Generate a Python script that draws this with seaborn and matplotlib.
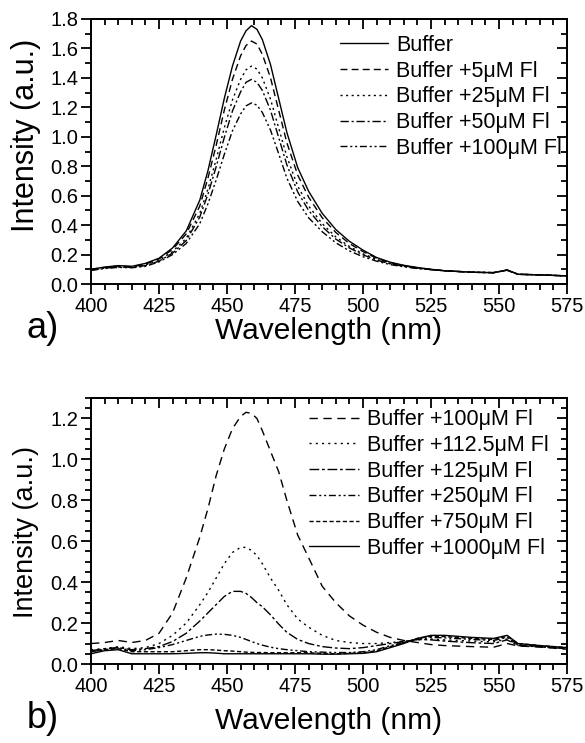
import numpy as np
import pandas as pd
import matplotlib
matplotlib.use("Agg")
import matplotlib.pyplot as plt
import seaborn as sns
from matplotlib.ticker import MultipleLocator, FormatStrFormatter

# ---------------- data ----------------
wavelength = [400, 405, 410, 415, 420, 425, 430, 435, 440, 443, 446, 449, 452, 455, 457,
              459, 461, 463, 466, 469, 472, 476, 480, 485, 490, 495, 500, 505, 510, 515,
              520, 525, 530, 540, 548, 553, 557, 565, 575]

# panel a)
labels_a = ["Buffer", "Buffer +5\u03bcM Fl", "Buffer +25\u03bcM Fl",
            "Buffer +50\u03bcM Fl", "Buffer +100\u03bcM Fl"]
buffer_0 = [0.100, 0.115, 0.125, 0.120, 0.140, 0.175, 0.245, 0.360, 0.570, 0.770, 1.010, 1.260, 1.480, 1.650, 1.720,
            1.755, 1.730, 1.660, 1.490, 1.260, 1.030, 0.790, 0.630, 0.480, 0.370, 0.290, 0.230, 0.180, 0.148, 0.127,
            0.112, 0.100, 0.090, 0.080, 0.077, 0.095, 0.066, 0.062, 0.055]
buffer_5 = [0.100, 0.112, 0.122, 0.118, 0.135, 0.170, 0.235, 0.340, 0.530, 0.720, 0.940, 1.180, 1.390, 1.550, 1.620,
            1.650, 1.630, 1.560, 1.400, 1.180, 0.960, 0.740, 0.590, 0.450, 0.350, 0.275, 0.220, 0.175, 0.145, 0.125,
            0.110, 0.099, 0.090, 0.080, 0.077, 0.095, 0.066, 0.062, 0.055]
buffer_25 = [0.097, 0.110, 0.118, 0.116, 0.130, 0.160, 0.220, 0.310, 0.480, 0.645, 0.845, 1.060, 1.250, 1.390, 1.455,
             1.480, 1.460, 1.400, 1.255, 1.060, 0.865, 0.665, 0.530, 0.410, 0.320, 0.255, 0.205, 0.168, 0.140, 0.122,
             0.108, 0.098, 0.090, 0.080, 0.077, 0.094, 0.066, 0.062, 0.055]
buffer_50 = [0.095, 0.108, 0.116, 0.113, 0.125, 0.155, 0.210, 0.295, 0.455, 0.610, 0.795, 0.995, 1.175, 1.305, 1.370,
             1.390, 1.370, 1.315, 1.180, 0.995, 0.810, 0.625, 0.500, 0.390, 0.305, 0.245, 0.198, 0.163, 0.137, 0.120,
             0.107, 0.098, 0.090, 0.080, 0.077, 0.094, 0.066, 0.062, 0.055]
buffer_100 = [0.092, 0.105, 0.113, 0.110, 0.120, 0.150, 0.200, 0.275, 0.410, 0.545, 0.705, 0.880, 1.040, 1.155, 1.210,
              1.230, 1.215, 1.165, 1.045, 0.885, 0.720, 0.560, 0.450, 0.355, 0.280, 0.225, 0.185, 0.155, 0.132, 0.117,
              0.105, 0.097, 0.090, 0.080, 0.077, 0.093, 0.066, 0.062, 0.055]

# panel b)
labels_b = ["Buffer +100\u03bcM Fl", "Buffer +112.5\u03bcM Fl", "Buffer +125\u03bcM Fl",
            "Buffer +250\u03bcM Fl", "Buffer +750\u03bcM Fl", "Buffer +1000\u03bcM Fl"]
fl_100 = [0.100, 0.105, 0.115, 0.105, 0.115, 0.150, 0.250, 0.420, 0.620, 0.760, 0.920, 1.050, 1.150, 1.210, 1.230,
          1.225, 1.200, 1.140, 1.040, 0.940, 0.800, 0.630, 0.520, 0.380, 0.300, 0.235, 0.190, 0.155, 0.130, 0.115,
          0.105, 0.095, 0.090, 0.085, 0.082, 0.100, 0.088, 0.083, 0.072]
fl_112 = [0.070, 0.075, 0.085, 0.075, 0.080, 0.100, 0.140, 0.200, 0.290, 0.350, 0.420, 0.490, 0.545, 0.570, 0.570,
          0.555, 0.530, 0.490, 0.420, 0.360, 0.290, 0.220, 0.180, 0.140, 0.115, 0.105, 0.100, 0.100, 0.105, 0.110,
          0.118, 0.122, 0.118, 0.112, 0.108, 0.122, 0.092, 0.085, 0.075]
fl_125 = [0.065, 0.075, 0.080, 0.070, 0.075, 0.085, 0.110, 0.150, 0.210, 0.250, 0.290, 0.330, 0.355, 0.355, 0.345,
          0.325, 0.300, 0.280, 0.240, 0.195, 0.155, 0.120, 0.100, 0.085, 0.078, 0.075, 0.080, 0.090, 0.100, 0.110,
          0.120, 0.118, 0.112, 0.104, 0.100, 0.118, 0.090, 0.084, 0.075]
fl_250 = [0.060, 0.070, 0.080, 0.065, 0.070, 0.080, 0.095, 0.115, 0.135, 0.142, 0.146, 0.145, 0.140, 0.130, 0.120,
          0.110, 0.100, 0.092, 0.082, 0.075, 0.070, 0.065, 0.060, 0.058, 0.056, 0.056, 0.060, 0.070, 0.090, 0.105,
          0.120, 0.130, 0.128, 0.120, 0.115, 0.130, 0.095, 0.086, 0.078]
fl_750 = [0.060, 0.070, 0.075, 0.060, 0.060, 0.060, 0.060, 0.065, 0.070, 0.070, 0.068, 0.065, 0.063, 0.060, 0.058,
          0.057, 0.056, 0.056, 0.055, 0.055, 0.055, 0.055, 0.055, 0.052, 0.050, 0.052, 0.055, 0.065, 0.085, 0.105,
          0.125, 0.135, 0.134, 0.125, 0.120, 0.135, 0.100, 0.090, 0.080]
fl_1000 = [0.050, 0.065, 0.070, 0.050, 0.050, 0.050, 0.050, 0.052, 0.055, 0.055, 0.053, 0.050, 0.050, 0.050, 0.050,
           0.050, 0.050, 0.050, 0.050, 0.050, 0.050, 0.050, 0.050, 0.048, 0.048, 0.050, 0.052, 0.060, 0.080, 0.100,
           0.125, 0.140, 0.140, 0.130, 0.125, 0.140, 0.100, 0.090, 0.080]

# ---------------- style ----------------
sns.set_theme(style="ticks")
plt.rcParams["font.family"] = ["Liberation Sans", "DejaVu Sans"]
plt.rcParams["axes.linewidth"] = 1.4
plt.rcParams["text.color"] = "black"
plt.rcParams["axes.labelcolor"] = "black"

dashes_a = {labels_a[0]: "", labels_a[1]: (5, 3), labels_a[2]: (1.5, 2.5),
            labels_a[3]: (6, 2, 1.5, 2), labels_a[4]: (5, 2, 1.5, 2, 1.5, 2)}
dashes_b = {labels_b[0]: (6, 4), labels_b[1]: (1.5, 3), labels_b[2]: (7, 2, 2, 2),
            labels_b[3]: (5, 2, 1.5, 2, 1.5, 2), labels_b[4]: (3, 1.8), labels_b[5]: ""}

df_a = pd.concat([pd.DataFrame({"wl": wavelength, "I": v, "label": l})
                  for v, l in zip([buffer_0, buffer_5, buffer_25, buffer_50, buffer_100], labels_a)])
df_b = pd.concat([pd.DataFrame({"wl": wavelength, "I": v, "label": l})
                  for v, l in zip([fl_100, fl_112, fl_125, fl_250, fl_750, fl_1000], labels_b)])

fig = plt.figure(figsize=(5.85, 7.43), dpi=100)
ax1 = fig.add_axes([91 / 585, 1 - 284 / 743, 476 / 585, 265 / 743])
ax2 = fig.add_axes([91 / 585, 1 - 664 / 743, 476 / 585, 266 / 743])

sns.lineplot(data=df_a, x="wl", y="I", style="label", style_order=labels_a, dashes=dashes_a,
             color="black", linewidth=1.0, errorbar=None, ax=ax1)
sns.lineplot(data=df_b, x="wl", y="I", style="label", style_order=labels_b, dashes=dashes_b,
             color="black", linewidth=1.0, errorbar=None, ax=ax2)

panel_cfg = [(ax1, (0, 1.8), 0.2, 0.1, 22, -0.125, 0.562),
             (ax2, (0, 1.3), 0.2, 0.05, 19.5, -0.16, 0.496)]
for ax, ylim, ymaj, ymin, ylab_size, xlab_y, ylab_y in panel_cfg:
    ax.set_xlim(400, 575)
    ax.set_ylim(*ylim)
    ax.xaxis.set_major_locator(MultipleLocator(25))
    ax.xaxis.set_minor_locator(MultipleLocator(5))
    ax.yaxis.set_major_locator(MultipleLocator(ymaj))
    ax.yaxis.set_minor_locator(MultipleLocator(ymin))
    ax.yaxis.set_major_formatter(FormatStrFormatter("%.1f"))
    ax.tick_params(which="both", direction="out", top=False, right=False, width=1.3,
                   labelsize=14.5, colors="black", pad=2)
    ax.tick_params(which="major", length=7)
    ax.tick_params(which="minor", length=4)
    sec = ax.secondary_xaxis("top")
    sec.xaxis.set_major_locator(MultipleLocator(25))
    sec.xaxis.set_minor_locator(MultipleLocator(5))
    sec.tick_params(which="both", direction="in", labeltop=False, width=1.3, colors="black")
    sec.tick_params(which="major", length=7)
    sec.tick_params(which="minor", length=4)
    secy = ax.secondary_yaxis("right")
    secy.yaxis.set_major_locator(MultipleLocator(ymaj))
    secy.yaxis.set_minor_locator(MultipleLocator(ymin))
    secy.tick_params(which="both", direction="in", labelright=False, width=1.3, colors="black")
    secy.tick_params(which="major", length=7)
    secy.tick_params(which="minor", length=4)
    for s in ax.spines.values():
        s.set_color("black")
    ax.set_xlabel("Wavelength (nm)", fontsize=21.5, color="black")
    ax.xaxis.set_label_coords(0.5, xlab_y)
    ax.set_ylabel("Intensity (a.u.)", fontsize=ylab_size, color="black")
    ax.yaxis.label.set_va("center")
    ax.yaxis.set_label_coords(-0.137, ylab_y)

leg_kw = dict(loc="upper right", frameon=False, fontsize=15.5, handlelength=2.2,
              handletextpad=0.4, labelspacing=0.22, borderaxespad=0.0, borderpad=0.0,
              labelcolor="black")
leg1 = ax1.legend(bbox_to_anchor=(0.9895, 0.94), **leg_kw)
leg2 = ax2.legend(bbox_to_anchor=(0.962, 0.958), **dict(leg_kw, handlelength=2.3))
for leg in (leg1, leg2):
    for h in leg.get_lines():
        h.set_color("black")
        h.set_linewidth(1.0)

fig.text(27 / 585, 1 - 329 / 743, "a)", fontsize=26, va="center", ha="left", color="black")
fig.text(27 / 585, 1 - 718 / 743, "b)", fontsize=26, va="center", ha="left", color="black")

fig.savefig("out.png", dpi=100, facecolor="white")
